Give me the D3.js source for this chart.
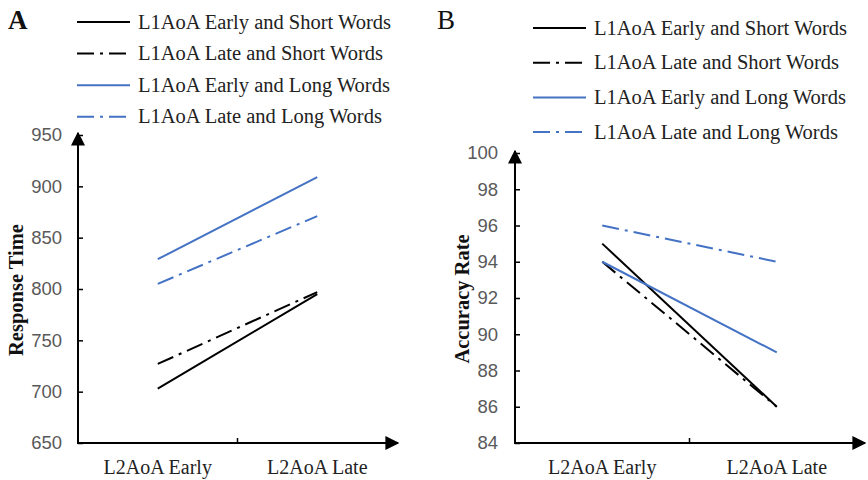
<!DOCTYPE html>
<html>
<head>
<meta charset="utf-8">
<script src="https://cdn.jsdelivr.net/npm/d3@7"></script>
<style>
  body { margin: 0; background: #fff; }
  svg { display: block; }
</style>
</head>
<body>
<svg id="chart" width="868" height="480"></svg>
<script>
// data
const conditions = ["L2AoA Early", "L2AoA Late"];
const seriesNames = [
    "L1AoA Early and Short Words",
    "L1AoA Late and Short Words",
    "L1AoA Early and Long Words",
    "L1AoA Late and Long Words"
];
const seriesColors = ["#000000", "#000000", "#4472c4", "#4472c4"];
const seriesDashed = [false, true, false, true];

const responseTime = [
    [703, 795],
    [727, 797],
    [829, 909],
    [805, 871]
];
const accuracyRate = [
    [95, 86],
    [94, 86],
    [94, 89],
    [96, 94]
];
const rtTicks = [650, 700, 750, 800, 850, 900, 950];
const accTicks = [84, 86, 88, 90, 92, 94, 96, 98, 100];

const svg = d3.select("#chart");
const dashPattern = "17,6,3,6";

svg.append("defs")
    .append("marker")
    .attr("id", "arrow")
    .attr("viewBox", "0 0 10 10")
    .attr("refX", 9)
    .attr("refY", 5)
    .attr("markerWidth", 7)
    .attr("markerHeight", 7)
    .attr("markerUnits", "strokeWidth")
    .attr("orient", "auto")
    .append("path")
    .attr("d", "M0,0L10,5L0,10z")
    .attr("fill", "#000");

function drawPanel(opts) {
    const g = svg.append("g");

    var x = d3.scaleBand()
        .domain(conditions)
        .range([opts.left, opts.right])
        .padding(0);
    var y = d3.scaleLinear()
        .domain(opts.domain)
        .range([opts.bottom, opts.top]);

    // panel letter
    g.append("text")
        .attr("x", opts.letterX)
        .attr("y", 29)
        .attr("font-family", "Liberation Serif, Times New Roman, serif")
        .attr("font-size", 27)
        .attr("font-weight", opts.letterBold ? "bold" : "normal")
        .attr("fill", "#111")
        .text(opts.letter);

    // legend
    const legend = g.append("g")
        .attr("transform", "translate(" + opts.legendX + "," + opts.legendY + ")");
    const items = legend.selectAll(".legend-item")
        .data(seriesNames)
        .enter()
        .append("g")
        .attr("class", "legend-item")
        .attr("transform", (d, i) => "translate(0," + i * opts.legendStep + ")");
    items.append("line")
        .attr("x1", 0)
        .attr("x2", 53)
        .attr("stroke", (d, i) => seriesColors[i])
        .attr("stroke-width", 2)
        .attr("stroke-dasharray", (d, i) => seriesDashed[i] ? dashPattern : null);
    items.append("text")
        .attr("x", 61)
        .attr("dy", "0.32em")
        .attr("font-family", "Liberation Serif, Times New Roman, serif")
        .attr("font-size", 20.5)
        .attr("fill", "#222")
        .text(d => d);

    // y axis ticks and labels
    const yAxis = g.append("g")
        .attr("transform", "translate(" + opts.left + ",0)")
        .call(d3.axisLeft(y).tickValues(opts.ticks).tickSizeInner(-5).tickSizeOuter(0).tickPadding(opts.tickPad));
    yAxis.select(".domain").remove();
    yAxis.selectAll(".tick line").attr("stroke", "#000").attr("stroke-width", 1.5);
    yAxis.selectAll(".tick text")
        .attr("font-family", "Liberation Sans, Arial, sans-serif")
        .attr("font-size", 18.5)
        .attr("fill", "#595959");

    // axis lines with arrows
    g.append("line")
        .attr("x1", opts.left).attr("x2", opts.left)
        .attr("y1", opts.bottom + 1).attr("y2", y(opts.domain[1]) - 2)
        .attr("stroke", "#000").attr("stroke-width", 2)
        .attr("marker-end", "url(#arrow)");
    g.append("line")
        .attr("x1", opts.left - 1).attr("x2", opts.right + 1)
        .attr("y1", opts.bottom).attr("y2", opts.bottom)
        .attr("stroke", "#000").attr("stroke-width", 2)
        .attr("marker-end", "url(#arrow)");

    // tick between the two categories
    g.append("line")
        .attr("x1", x(conditions[1])).attr("x2", x(conditions[1]))
        .attr("y1", opts.bottom).attr("y2", opts.bottom - 5)
        .attr("stroke", "#000").attr("stroke-width", 1.5);

    g.selectAll(".cat-label")
        .data(conditions)
        .enter()
        .append("text")
        .attr("class", "cat-label")
        .attr("x", d => x(d) + x.bandwidth() / 2)
        .attr("y", opts.bottom + 31)
        .attr("text-anchor", "middle")
        .attr("font-family", "Liberation Serif, Times New Roman, serif")
        .attr("font-size", 20)
        .attr("fill", "#222")
        .text(d => d);

    // y title
    g.append("text")
        .attr("transform", "translate(" + opts.titleX + "," + ((opts.top + opts.bottom) / 2 + 1) + ") rotate(-90)")
        .attr("text-anchor", "middle")
        .attr("font-family", "Liberation Serif, Times New Roman, serif")
        .attr("font-size", 20.5)
        .attr("font-weight", "bold")
        .attr("fill", "#111")
        .text(opts.title);

    // series lines
    const line = d3.line()
        .x((d, i) => x(conditions[i]) + x.bandwidth() / 2)
        .y(d => y(d));
    g.selectAll(".series")
        .data(opts.values)
        .enter()
        .append("path")
        .attr("class", "series")
        .attr("fill", "none")
        .attr("stroke", (d, i) => seriesColors[i])
        .attr("stroke-width", 2)
        .attr("stroke-dasharray", (d, i) => seriesDashed[i] ? dashPattern : null)
        .attr("d", line);
}

drawPanel({
    letter: "A", letterX: 8, letterBold: true,
    legendX: 77, legendY: 22, legendStep: 31.6,
    left: 78, right: 397, top: 135, bottom: 443,
    domain: [650, 950], ticks: rtTicks, tickPad: 16,
    title: "Response Time", titleX: 23,
    values: responseTime
});

drawPanel({
    letter: "B", letterX: 437, letterBold: false,
    legendX: 533, legendY: 28, legendStep: 34.7,
    left: 515, right: 864, top: 153, bottom: 443,
    domain: [84, 100], ticks: accTicks, tickPad: 17,
    title: "Accuracy Rate", titleX: 469,
    values: accuracyRate
});
</script>
</body>
</html>
